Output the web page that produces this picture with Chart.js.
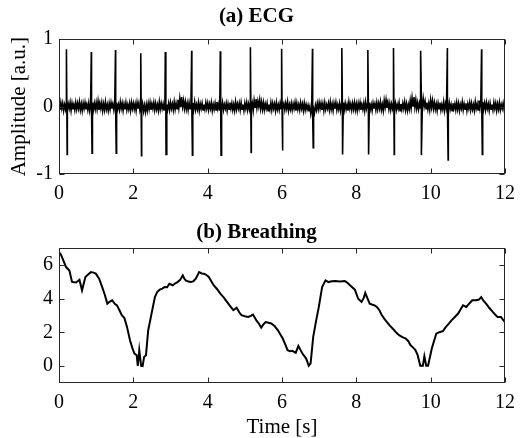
<!DOCTYPE html>
<html>
<head>
<meta charset="utf-8">
<script src="https://cdn.jsdelivr.net/npm/chart.js@4.4.1/dist/chart.umd.min.js"></script>
<style>
body { margin: 0; background: #fff; }
#wrap { position: relative; width: 523px; height: 438px; }
canvas { position: absolute; left: 0; }
#ecg { top: 0; }
#breath { top: 210px; }
</style>
</head>
<body>
<div id="wrap">
	<canvas id="ecg" width="523" height="210" style="width:523px;height:210px"></canvas>
	<canvas id="breath" width="523" height="228" style="width:523px;height:228px"></canvas>
</div>
<script>
// ECG baseline, sampled every 0.025 s, in hundredths (four lines per second)
var ecgStep = 0.025;
var ecgBase = [
	4,-5,6,-3,5,-6,3,-4,7,-5,
	4,-3,6,-6,5,-4,3,-5,6,-4,
	5,-3,7,-5,4,-6,5,-3,6,-4,
	3,-5,5,-6,4,-3,6,-5,5,-4,
	6,-4,8,-5,5,-3,6,-6,4,-5,
	7,-4,3,-6,5,-4,6,-3,4,-5,
	5,-6,6,-4,3,-5,7,-3,5,-6,
	4,-4,6,-5,3,-4,5,-6,6,-3,
	5,-4,4,-6,6,-3,5,-5,3,-6,
	4,-7,2,-8,3,-6,5,-4,6,-5,
	4,-3,6,-5,5,-4,3,-6,7,-4,
	5,-3,4,-6,6,-5,3,-4,5,-5,
	6,-3,4,-5,7,-4,5,-3,10,-2,
	12,-1,14,0,9,-3,7,-4,5,-5,
	6,-3,4,-6,5,-4,7,-5,3,-4,
	6,-6,4,-3,5,-5,3,-4,6,-3,
	5,-5,4,-3,6,-6,3,-4,5,-5,
	7,-3,4,-6,5,-4,6,-5,3,-3,
	5,-6,4,-4,6,-3,5,-5,3,-6,
	7,-4,4,-3,5,-5,6,-4,3,-6,
	5,-3,6,-5,4,-4,7,-3,5,-6,
	9,-1,11,-2,8,0,10,-3,7,-4,
	6,-5,4,-3,5,-6,3,-4,6,-5,
	5,-3,4,-6,6,-4,3,-5,5,-3,
	6,-4,4,-5,5,-3,7,-6,3,-4,
	5,-5,4,-3,6,-6,5,-4,3,-5,
	6,-3,4,-6,5,-5,3,-4,2,-7,
	0,-11,-2,-12,-3,-9,2,-5,5,-4,
	6,-3,5,-5,4,-6,6,-4,3,-3,
	5,-5,7,-4,4,-6,5,-3,6,-5,
	3,-4,5,-6,4,-3,6,-5,5,-4,
	3,-6,7,-3,4,-5,5,-4,6,-5,
	4,-6,5,-3,6,-5,3,-4,5,-6,
	7,-3,4,-5,6,-4,3,-6,5,-3,
	4,-5,6,-4,5,-3,7,-5,3,-6,
	9,-1,10,-2,6,-4,5,-5,4,-3,
	6,-4,5,-5,3,-3,6,-6,4,-4,
	5,-3,7,-5,4,-6,3,-4,9,-2,
	13,1,14,-1,10,-3,6,-4,5,-2,
	11,-1,12,0,8,-3,6,-4,5,-5,
	10,-1,9,-3,6,-4,4,-6,5,-3,
	6,-5,3,-4,7,-6,4,-3,5,-5,
	6,-4,3,-6,5,-3,4,-5,6,-4,
	5,-6,3,-3,7,-5,4,-4,5,-6,
	4,-3,6,-5,5,-4,3,-6,7,-3,
	4,-5,9,-2,10,-1,7,-4,5,-5,
	6,-3,4,-6,5,-4,3,-5,6,-3,
	5,-6,4,-4,6,-5,3,-3,5,-4,
	3
];

// R peaks
var beatTimes   = [0.20, 0.87, 1.52, 2.20, 2.86, 3.57, 4.34, 5.15, 5.99, 6.82, 7.61, 8.31, 9.00, 9.73, 10.45, 11.37];
var beatPeaks   = [0.85, 0.81, 0.84, 0.79, 0.81, 0.83, 0.82, 0.88, 0.86, 0.86, 0.87, 0.84, 0.87, 0.83, 0.87, 0.85];
var beatTroughs = [-0.71, -0.69, -0.69, -0.73, -0.71, -0.72, -0.72, -0.68, -0.65, -0.61, -0.71, -0.71, -0.71, -0.72, -0.79, -0.71];

// breathing trace
var breathT = [0, 0.05, 0.10, 0.19, 0.28, 0.35, 0.46, 0.55, 0.62, 0.71, 0.79, 0.86, 0.93, 0.99, 1.08, 1.16, 1.23, 1.30, 1.36, 1.43, 1.50, 1.56,
	1.62, 1.69, 1.76, 1.83, 1.91, 1.97, 2.03, 2.09, 2.12, 2.16, 2.21, 2.25, 2.29, 2.34, 2.40, 2.49, 2.58, 2.64, 2.71, 2.78, 2.84,
	2.91, 2.97, 3.06, 3.13, 3.19, 3.26, 3.33, 3.37, 3.41, 3.48, 3.55, 3.62, 3.68, 3.77, 3.84, 3.90, 3.96, 4.03, 4.16, 4.25, 4.34,
	4.43, 4.52, 4.60, 4.69, 4.78, 4.85, 4.91, 5.00, 5.09, 5.16, 5.22, 5.31, 5.38, 5.44, 5.50, 5.56, 5.64, 5.71, 5.80, 5.89, 6.02,
	6.09, 6.15, 6.22, 6.28, 6.37, 6.44, 6.50, 6.55, 6.65, 6.72, 6.77, 6.84, 6.92, 6.99, 7.08, 7.17, 7.25, 7.34, 7.43, 7.56, 7.69,
	7.76, 7.83, 7.96, 8.05, 8.14, 8.20, 8.24, 8.30, 8.36, 8.42, 8.49, 8.56, 8.62, 8.68, 8.75, 8.82, 8.89, 9.02, 9.08, 9.15, 9.24,
	9.33, 9.40, 9.46, 9.53, 9.59, 9.65, 9.72, 9.79, 9.83, 9.88, 9.93, 10.03, 10.15, 10.25, 10.33, 10.41, 10.49, 10.56, 10.65,
	10.74, 10.80, 10.87, 10.96, 11.04, 11.12, 11.22, 11.30, 11.36, 11.42, 11.49, 11.58, 11.67, 11.74, 11.80, 11.89, 11.95, 12.0];
var breathV = [6.77, 6.62, 6.37, 5.88, 5.68, 5.00, 4.97, 5.13, 4.50, 5.29, 5.45, 5.58, 5.55, 5.49, 5.19, 4.70, 4.25, 3.71, 3.82, 3.91, 3.70, 3.61,
	3.35, 3.02, 2.85, 2.33, 1.54, 1.10, 0.75, 0.65, 0.02, 0.95, 0.02, 0.00, 0.55, 0.65, 2.13, 3.12, 4.10, 4.40, 4.54, 4.60, 4.70,
	4.68, 4.89, 4.80, 4.92, 4.99, 5.12, 5.39, 5.20, 5.09, 5.02, 4.99, 5.05, 5.19, 5.58, 5.50, 5.49, 5.42, 5.29, 4.80, 4.58, 4.30,
	4.08, 3.81, 3.58, 3.32, 3.47, 3.20, 3.02, 2.96, 2.92, 2.98, 3.06, 2.72, 2.52, 2.29, 2.48, 2.62, 2.58, 2.53, 2.38, 2.13, 1.64,
	1.28, 0.95, 0.88, 0.91, 0.79, 1.20, 0.95, 0.75, 0.45, 0.02, 0.16, 1.74, 2.72, 3.51, 4.70, 5.09, 4.99, 5.04, 5.05, 5.03, 5.05,
	4.95, 4.80, 4.54, 4.00, 3.81, 4.05, 4.34, 4.02, 3.71, 3.66, 3.61, 3.50, 3.32, 3.05, 2.82, 2.62, 2.43, 2.13, 1.98, 1.84, 1.72,
	1.64, 1.48, 1.24, 1.10, 0.95, 0.65, 0.02, 0.02, 0.59, 0.02, 0.02, 1.05, 1.93, 2.03, 2.08, 2.33, 2.52, 2.72, 2.92,
	3.12, 3.35, 3.61, 3.51, 3.72, 3.91, 3.91, 3.95, 4.10, 3.88, 3.71, 3.45, 3.22, 3.05, 2.92, 2.92, 2.75, 2.62];

var timeTicks = [0, 2, 4, 6, 8, 10, 12];
var ecgYTicks = [-1, 0, 1];
var breathYTicks = [0, 2, 4, 6];

var ecgPoints = [];
for (var i = 0; i < ecgBase.length; i++) {
	ecgPoints.push({x: i * ecgStep, y: ecgBase[i] / 100});
}
for (var b = 0; b < beatTimes.length; b++) {
	ecgPoints.push({x: beatTimes[b], y: beatPeaks[b]});
	ecgPoints.push({x: beatTimes[b] + 0.02, y: beatTroughs[b]});
}
ecgPoints.sort(function(p, q) { return p.x - q.x; });

var breathPoints = [];
for (var j = 0; j < breathT.length; j++) {
	breathPoints.push({x: breathT[j], y: breathV[j]});
}

var serif = "'Liberation Serif', 'Times New Roman', serif";

// box round the axes with inward tick marks on all four sides
var boxPlugin = {
	id: 'box',
	afterDraw: function(chart) {
		var ctx = chart.ctx, a = chart.chartArea;
		var xs = chart.scales.x, ys = chart.scales.y;
		var l = Math.round(a.left) + 0.5, r = Math.round(a.right) - 0.5;
		var t = Math.round(a.top) + 0.5, btm = Math.round(a.bottom) - 0.5;
		ctx.save();
		ctx.strokeStyle = '#262626';
		ctx.lineWidth = 1;
		ctx.beginPath();
		xs.ticks.forEach(function(tk) {
			var px = Math.round(xs.getPixelForValue(tk.value)) + 0.5;
			ctx.moveTo(px, t); ctx.lineTo(px, t + 5);
			ctx.moveTo(px, btm); ctx.lineTo(px, btm - 5);
		});
		ys.ticks.forEach(function(tk) {
			var py = Math.round(ys.getPixelForValue(tk.value)) + 0.5;
			ctx.moveTo(l, py); ctx.lineTo(l + 5, py);
			ctx.moveTo(r, py); ctx.lineTo(r - 5, py);
		});
		ctx.stroke();
		ctx.strokeRect(l, t, r - l, btm - t);
		ctx.restore();
	}
};

function xAxis(titleText, height) {
	return {
		type: 'linear',
		min: 0,
		max: 12,
		afterBuildTicks: function(s) { s.ticks = timeTicks.map(function(v) { return {value: v}; }); },
		afterFit: function(s) { s.height = height; },
		grid: { display: false, drawTicks: false, tickLength: 0 },
		border: { display: false },
		ticks: { padding: 8, maxRotation: 0, color: '#000', font: { family: serif, size: 20 } },
		title: {
			display: !!titleText,
			text: titleText,
			color: '#000',
			padding: 0,
			font: { family: serif, size: 21, lineHeight: 1 }
		}
	};
}

function yAxis(min, max, tickVals, titleText) {
	return {
		min: min,
		max: max,
		afterBuildTicks: function(s) { s.ticks = tickVals.map(function(v) { return {value: v}; }); },
		afterFit: function(s) { s.width = 59; },
		grid: { display: false, drawTicks: false, tickLength: 0 },
		border: { display: false },
		ticks: { padding: 6, color: '#000', font: { family: serif, size: 20 } },
		title: {
			display: !!titleText,
			text: titleText,
			color: '#000',
			padding: { top: 7, bottom: 0 },
			font: { family: serif, size: 21 }
		}
	};
}

new Chart(document.getElementById('ecg'), {
	type: 'line',
	data: {
		datasets: [{
			data: ecgPoints,
			borderColor: '#000',
			borderWidth: 1.6,
			pointRadius: 0,
			tension: 0
		}]
	},
	options: {
		responsive: false,
		animation: false,
		layout: { padding: { left: 0, right: 10, top: 0, bottom: 0 } },
		plugins: {
			legend: { display: false },
			tooltip: { enabled: false },
			title: {
				display: true,
				text: '(a) ECG',
				color: '#000',
				padding: { top: 4, bottom: 10 },
				font: { family: serif, size: 21, weight: 'bold' }
			}
		},
		scales: {
			x: xAxis('', 36),
			y: yAxis(-1, 1, ecgYTicks, 'Amplitude [a.u.]')
		}
	},
	plugins: [boxPlugin]
});

new Chart(document.getElementById('breath'), {
	type: 'line',
	data: {
		datasets: [{
			data: breathPoints,
			borderColor: '#000',
			borderWidth: 2,
			pointRadius: 0,
			tension: 0
		}]
	},
	options: {
		responsive: false,
		animation: false,
		layout: { padding: { left: 0, right: 10, top: 0, bottom: 0 } },
		plugins: {
			legend: { display: false },
			tooltip: { enabled: false },
			title: {
				display: true,
				text: '(b) Breathing',
				color: '#000',
				padding: { top: 10, bottom: 3 },
				font: { family: serif, size: 21, weight: 'bold' }
			}
		},
		scales: {
			x: xAxis('Time [s]', 55),
			y: yAxis(-1, 7, breathYTicks, '')
		}
	},
	plugins: [boxPlugin]
});
</script>
</body>
</html>
